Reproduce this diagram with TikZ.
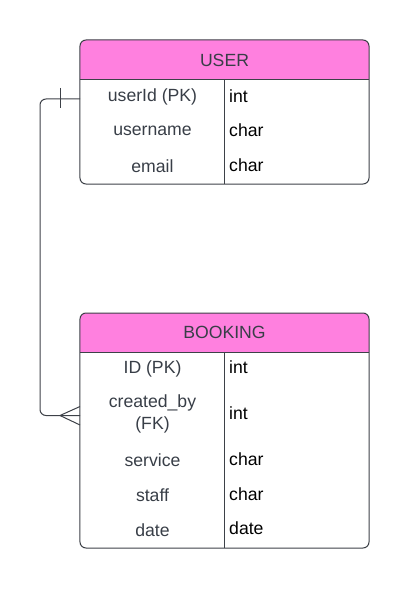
\documentclass[tikz,border=0pt]{standalone}
\usepackage{fontspec}
\setmainfont{Liberation Sans}
\definecolor{hdr}{HTML}{FF80DF}
\definecolor{edge}{HTML}{3D4148}
\definecolor{lbl}{HTML}{383E47}
\begin{document}
\begin{tikzpicture}[x=1bp,y=-1bp,
  entity/.style={draw=edge, line width=1bp, rounded corners=6bp, rectangle, inner sep=0pt},
  hdrtext/.style={text=lbl, font=\fontsize{17.7}{20}\selectfont},
  keytext/.style={text=lbl, font=\fontsize{17.7}{20}\selectfont, align=center},
  typetext/.style={text=black, anchor=west, font=\fontsize{17.7}{20}\selectfont, inner sep=0pt},
  rule/.style={draw=edge, line width=1bp},
  conn/.style={draw=edge, line width=1bp}]
\useasboundingbox (0,0) rectangle (409,589);
% USER header fill
\begin{scope}
  \clip (80,40) rectangle (369,80);
  \fill[hdr, rounded corners=6bp] (80,40) rectangle (369,110);
\end{scope}
\node[entity, minimum width=289bp, minimum height=144bp] (user) at (224.5,112) {};
\draw[rule] (80,80) -- (369,80);
\draw[rule] (224,80) -- (224,184);
\node[hdrtext] (usertitle) at (224.5,60) {USER};
\node[keytext] (u1) at (152.5,97) {userId (PK)};
\node[keytext] (u2) at (152.5,131) {username};
\node[keytext] (u3) at (152.5,166) {email};
\node[typetext] (t1) at (229,96) {int};
\node[typetext] (t2) at (229,130) {char};
\node[typetext] (t3) at (229,165) {char};
% BOOKING header fill
\begin{scope}
  \clip (80,313) rectangle (369,352);
  \fill[hdr, rounded corners=6bp] (80,313) rectangle (369,380);
\end{scope}
\node[entity, minimum width=289bp, minimum height=235bp] (booking) at (224.5,430.5) {};
\draw[rule] (80,352) -- (369,352);
\draw[rule] (224,352) -- (224,548);
\node[hdrtext] (bookingtitle) at (224.5,332) {BOOKING};
\node[keytext] (b1) at (152.5,369) {ID (PK)};
\node[keytext, font=\fontsize{17.7}{22}\selectfont] (b2) at (152.5,414) {created\_by\\(FK)};
\node[keytext] (b3) at (152.5,460) {service};
\node[keytext] (b4) at (152.5,495) {staff};
\node[keytext] (b5) at (152.5,530) {date};
\node[typetext] (s1) at (229,367) {int};
\node[typetext] (s2) at (229,413) {int};
\node[typetext] (s3) at (229,459) {char};
\node[typetext] (s4) at (229,494) {char};
\node[typetext] (s5) at (229,528) {date};
% connector
\coordinate (uport) at (80,99);
\coordinate (bport) at (80,415.5);
\draw[conn, rounded corners=6bp] (uport) -- (40,99) -- (40,415.5) -- (bport);
\draw[conn] (60,88) -- (60,108);
\draw[conn] (60,415.5) -- (80,406.5);
\draw[conn] (60,415.5) -- (80,425);
\end{tikzpicture}
\end{document}
